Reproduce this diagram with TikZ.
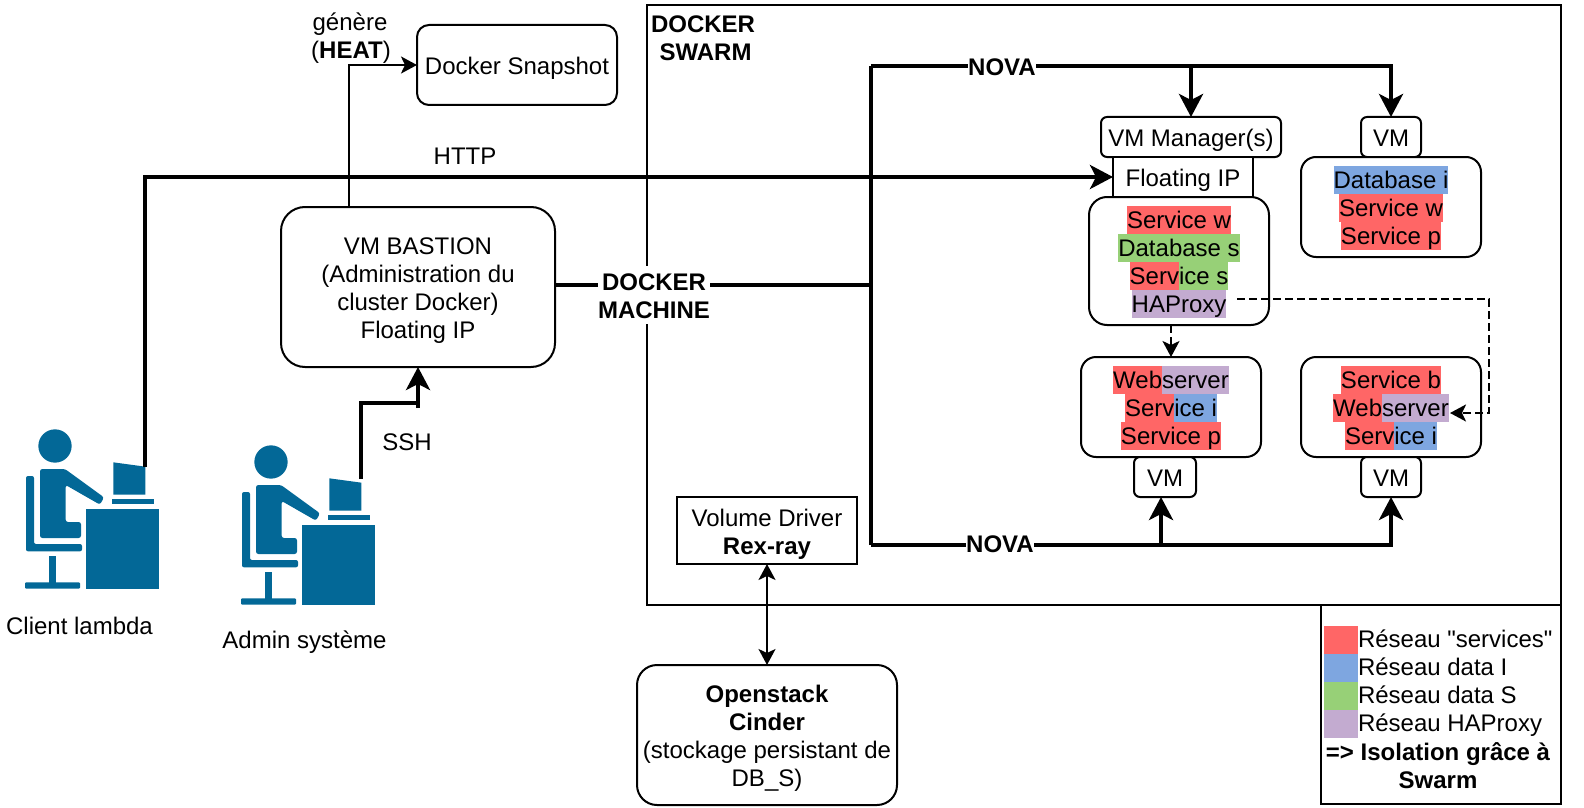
\documentclass[tikz,border=0pt]{standalone}
\usepackage{fontspec}
\setmainfont{Liberation Sans}
\newfontfamily\rawfont{Liberation Sans}
\usetikzlibrary{arrows.meta, positioning}
\definecolor{netS}{HTML}{FF6666}
\definecolor{netI}{HTML}{7EA6E0}
\definecolor{netD}{HTML}{97D077}
\definecolor{netH}{HTML}{C3ABD0}
\definecolor{iconblue}{HTML}{036897}
\setlength{\fboxsep}{0pt}
\newcommand{\hl}[2]{\colorbox{#1}{\rule[-2.7pt]{0pt}{14pt}#2}}
% height of a first line
\newcommand{\fl}{\rule{0pt}{12.3pt}}
\newcommand{\nodetop}{\fl}
\tikzset{
    bareL/.style={line width=1pt, -{Stealth[length=8pt,width=8.5pt,inset=2pt]}},
    bareB/.style={line width=2pt, -{Stealth[length=11.5pt,width=12pt,inset=3pt]}},
    bareD/.style={line width=1pt, dash pattern=on 4pt off 2pt, -{Stealth[length=8pt,width=8.5pt,inset=2pt]}},
    vbox/.style n args={3}{draw, line width=1pt, fill=white, rounded corners=#1, minimum width=#2, minimum height=#3},
    sbox/.style 2 args={draw, line width=1pt, minimum width=#1, minimum height=#2},
    swatch/.style={fill=#1, minimum width=17pt, minimum height=14pt, /utils/exec={\let\nodetop\relax}},
    lgtxt/.style={yshift=0.5pt, /utils/exec={\def\nodetop{\rule{0pt}{11.3pt}}}},
    boldtxt/.style={font=\fontsize{12pt}{14pt}\selectfont\bfseries},
    pics/deskuser/.style={code={
        \begin{scope}[x=0.16667pt, y=-0.16667pt, fill=iconblue]
        \fill (165,138) circle (50);
        \fill[rounded corners=1.2pt] (120,207) -- (195,207) -- (312,292) -- (300,314) -- (197,255) -- (197,366) -- (243,366) -- (243,414) -- (120,414) -- cycle;
        \fill[rounded corners=1pt] (78,228) -- (102,228) -- (102,432) -- (246,432) -- (246,454) -- (78,454) -- cycle;
        \fill (148,468) rectangle (167,548);
        \fill[rounded corners=0.5pt] (75,547) rectangle (240,566);
        \fill (258,328) rectangle (477,566);
        \fill (337,296) rectangle (462,313);
        \fill (340,187) -- (436,200) -- (436,284) -- (340,284) -- cycle;
        \end{scope}
    }}
}
\begin{document}
\begin{tikzpicture}[x=0.5pt, y=-0.5pt, every node/.style={inner sep=0pt, outer sep=0pt, align=center, font=\fontsize{12pt}{14pt}\selectfont,
        execute at begin node={\nodetop}, execute at end node={\rule[-2.7pt]{0pt}{0pt}}}]
    \useasboundingbox (0,0) rectangle (1584,808);
    % frames
    \node[sbox={457pt}{300pt}] (swarm) at (1103.5,304.8) {};
    \node[sbox={120pt}{99.6pt}] (legend) at (1440.7,704.4) {};
    \node[boldtxt] (swarmlbl) at (703,37) {\fl DOCKER\\\hspace*{2.5pt}SWARM};
    % people
    \pic at (0,400) {deskuser};
    \pic at (216,416) {deskuser};
    \coordinate (client) at (145,467);
    \coordinate (admin) at (361,479);
    \node (clientlbl) at (79.5,625) {Client lambda};
    \node (adminlbl) at (304.5,639) {Admin système};
    % boxes
    \node[vbox={6pt}{100pt}{40pt}] (snap) at (517,65) {Docker Snapshot};
    \node[vbox={12pt}{137pt}{80pt}] (bastion) at (418,287) {\fl VM BASTION\\(Administration du\\cluster Docker)\\Floating IP};
    \node[vbox={3pt}{90pt}{20pt}] (vmm) at (1191,137) {VM Manager(s)};
    \node[sbox={70pt}{20pt}, fill=white] (fip) at (1183,177) {Floating IP};
    \node[vbox={3pt}{30pt}{20pt}] (vm1) at (1391,137) {VM};
    \node[vbox={9pt}{90pt}{64pt}] (svc1) at (1179,261) {\fl\hl{netS}{Service w}\\\hl{netD}{Database s}\\\hl{netS}{Serv}\hl{netD}{ice s}\\\hl{netH}{HAProxy}};
    \node[vbox={7.5pt}{90pt}{50pt}] (svc2) at (1391,207) {\fl\hl{netI}{Database i}\\\hl{netS}{Service w}\\\hl{netS}{Service p}};
    \node[vbox={7.5pt}{90pt}{50pt}] (svc3) at (1171,407) {\fl\hl{netS}{Web}\hl{netH}{server}\\\hl{netS}{Serv}\hl{netI}{ice i}\\\hl{netS}{Service p}};
    \node[vbox={7.5pt}{90pt}{50pt}] (svc4) at (1391,407) {\fl\hl{netS}{Service b}\\\hl{netS}{Web}\hl{netH}{server}\\\hl{netS}{Serv}\hl{netI}{ice i}};
    \node[vbox={3pt}{31pt}{20pt}] (vm3) at (1165,477) {VM};
    \node[vbox={3pt}{30pt}{20pt}] (vm4) at (1391,477) {VM};
    \node[sbox={90pt}{33.5pt}] (driver) at (767,530.5) {\fl Volume Driver\\\textbf{Rex-ray}};
    \node[vbox={10pt}{130pt}{70pt}] (cinder) at (767,735) {\fl\textbf{Openstack}\\\textbf{Cinder}\\(stockage persistant de\\DB\_S)};
    % connectors
    \coordinate (hub) at (871,285);
    \coordinate (novatop) at (871,66.5);
    \coordinate (novabot) at (871,545);
    \coordinate (vm3in) at (1161,497);
    \coordinate (haout) at (1237,299);
    \coordinate (webin) at (1450,413);
    \coordinate (bend) at (1489,299);
    \coordinate (sshbend) at (418,403);
    \coordinate (sshstub) at (418,408);
    \coordinate (heatout) at (349,207);
    \draw[bareL] (heatout) |- (snap.west);
    \draw[bareB] (client) |- (fip.west);
    \draw[line width=2pt] (admin) |- (sshbend);
    \draw[bareB] (sshstub) -- (bastion.south);
    \draw[line width=2pt] (novabot) -- (novatop);
    \draw[line width=2pt] (bastion.east |- hub) -- (hub);
    \draw[bareB] (novatop) -| (vmm.north);
    \draw[bareB] (novatop) -| (vm1.north);
    \draw[bareB] (novabot) -| (vm3in);
    \draw[bareB] (novabot) -| (vm4.south);
    \draw[bareD] (svc1.south -| svc3.north) -- (svc3.north);
    \draw[bareD] (haout) -- (bend) |- (webin);
    \draw[line width=1pt, {Stealth[length=8pt,width=8.5pt,inset=2pt]}-{Stealth[length=8pt,width=8.5pt,inset=2pt]}] (driver.south) -- (cinder.north);
    % labels
    \node (gen) at (350,35) {\fl génère\\\hspace*{1pt}(\textbf{HEAT})};
    \node (http) at (465,154.5) {HTTP};
    \node (ssh) at (407,440.5) {SSH};
    \node[fill=white, boldtxt] (dm) at (654,294.5) {\fl DOCKER\\MACHINE};
    \node[fill=white, boldtxt] (nova1) at (1002,66) {NOVA};
    \node[fill=white, boldtxt] (nova2) at (1000,543) {NOVA};
    % legend
    \node[swatch=netS] (lg1) at (1341,640) {};
    \node[swatch=netI] (lg2) at (1341,668) {};
    \node[swatch=netD] (lg3) at (1341,696) {};
    \node[swatch=netH] (lg4) at (1341,724) {};
    \node[lgtxt, right=0pt of lg1] (lt1) {\rawfont Réseau "services"};
    \node[lgtxt, right=0pt of lg2] (lt2) {Réseau data I};
    \node[lgtxt, right=0pt of lg3] (lt3) {Réseau data S};
    \node[lgtxt, right=0pt of lg4] (lt4) {Réseau HAProxy};
    \node[boldtxt] (lt5) at (1438,765) {\fl{=}> Isolation grâce à\\Swarm};
\end{tikzpicture}
\end{document}
